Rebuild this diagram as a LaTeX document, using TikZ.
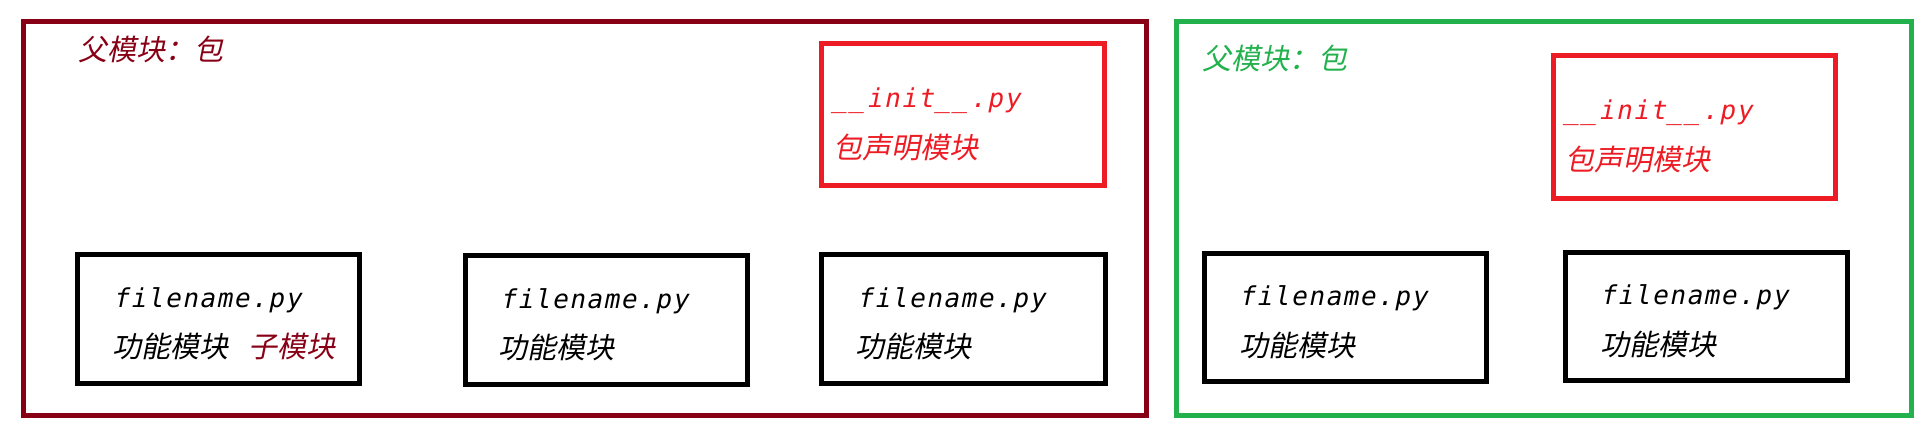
\documentclass[tikz,border=0pt]{standalone}
\usepackage{fontspec}
\newfontfamily\cjk{Noto Sans CJK SC}[FakeSlant=0.2]
\newfontfamily\mono{DejaVu Sans Mono}[FakeSlant=0.2,LetterSpace=6]
\definecolor{pdark}{HTML}{880015}
\definecolor{pred}{HTML}{ED1C24}
\definecolor{pgreen}{HTML}{22B14C}
\tikzset{
  frame/.style={draw, line width=5pt, inner sep=0pt, outer sep=0pt, fill=none},
  modbox/.style={frame, draw=black},
  initbox/.style={frame, draw=pred},
  codetxt/.style={anchor=base west, inner sep=0pt, font=\mono\fontsize{26}{30}\selectfont},
  cjktxt/.style={anchor=base west, inner sep=0pt, font=\cjk\fontsize{29}{34}\selectfont},
}
\begin{document}
\begin{tikzpicture}[x=1pt,y=-1pt]
\useasboundingbox (0,0) rectangle (1927,433);
% outer packages
\node[frame, draw=pdark, minimum width=1123pt, minimum height=394pt] (pkgL) at (585,218.5) {};
\node[frame, draw=pgreen, minimum width=735pt, minimum height=394pt] (pkgR) at (1544,218.5) {};
\node[cjktxt, text=pdark] (lblL) at (78,61) {父模块：包};
\node[cjktxt, text=pgreen] (lblR) at (1202,70) {父模块：包};
% init boxes
\node[initbox, minimum width=283pt, minimum height=142pt] (initL) at (963,114.5) {};
\node[codetxt, text=pred] (initLa) at (832,108) {\_\_init\_\_.py};
\node[cjktxt, text=pred] (initLb) at (833,158) {包声明模块};
\node[initbox, minimum width=282pt, minimum height=143pt] (initR) at (1694.5,127) {};
\node[codetxt, text=pred] (initRa) at (1564,120) {\_\_init\_\_.py};
\node[cjktxt, text=pred] (initRb) at (1565,171) {包声明模块};
% module boxes
\node[modbox, minimum width=282pt, minimum height=129pt] (b1) at (218.5,319) {};
\node[codetxt] (b1a) at (113,307) {filename.py};
\node[cjktxt] (b1b) at (112,357) {功能模块};
\node[cjktxt, text=pdark] (b1c) at (248,357) {子模块};
\node[modbox, minimum width=282pt, minimum height=129pt] (b2) at (606.5,320) {};
\node[codetxt] (b2a) at (500,308) {filename.py};
\node[cjktxt] (b2b) at (498,358) {功能模块};
\node[modbox, minimum width=284pt, minimum height=129pt] (b3) at (963.5,319) {};
\node[codetxt] (b3a) at (857,307) {filename.py};
\node[cjktxt] (b3b) at (855,357) {功能模块};
\node[modbox, minimum width=282pt, minimum height=128pt] (b4) at (1345.5,317.5) {};
\node[codetxt] (b4a) at (1239,305) {filename.py};
\node[cjktxt] (b4b) at (1239,356) {功能模块};
\node[modbox, minimum width=282pt, minimum height=128pt] (b5) at (1706.5,316.5) {};
\node[codetxt] (b5a) at (1600,304) {filename.py};
\node[cjktxt] (b5b) at (1600,355) {功能模块};
\end{tikzpicture}
\end{document}
